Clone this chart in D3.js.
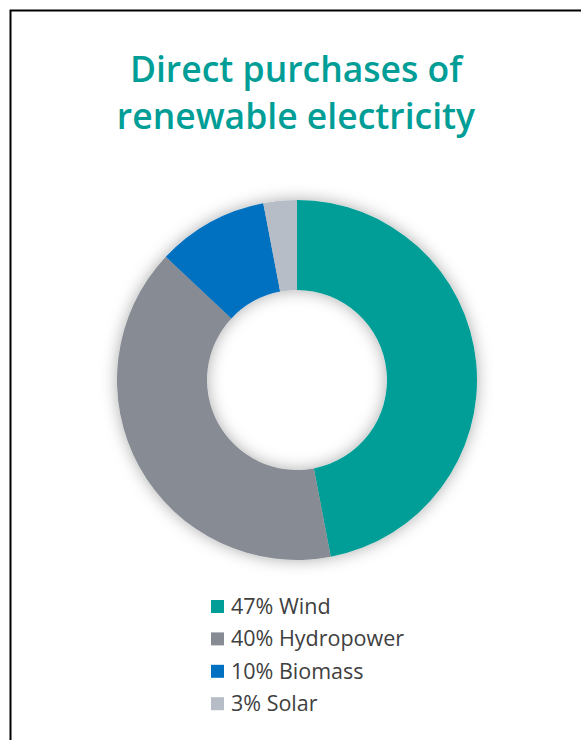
<!DOCTYPE html>
<html>
<head>
<meta charset="utf-8">
<script src="https://cdn.jsdelivr.net/npm/d3@7"></script>
<style>
  body { margin: 0; background: #fff; }
</style>
</head>
<body>
<div id="chart"></div>
<script>
var categories = ["Wind", "Hydropower", "Biomass", "Solar"];
var values = [47, 40, 10, 3];
var colors = ["#009E96", "#878C94", "#0070C0", "#B6BDC6"];
var titleLines = ["Direct purchases of", "renewable electricity"];

var width = 581, height = 740;
var cx = 297, cy = 380, outerR = 180, innerR = 90;

var svg = d3.select("#chart").append("svg")
  .attr("width", width)
  .attr("height", height);

// frame (runs off the right / bottom edge)
svg.append("rect")
  .attr("x", 10.5).attr("y", 10.5)
  .attr("width", 700).attr("height", 900)
  .attr("fill", "none")
  .attr("stroke", "#000")
  .attr("stroke-width", 2);

var defs = svg.append("defs");
var f = defs.append("filter").attr("id", "shadow")
  .attr("x", "-20%").attr("y", "-20%").attr("width", "140%").attr("height", "140%");
f.append("feDropShadow")
  .attr("dx", 0).attr("dy", 0)
  .attr("stdDeviation", 8)
  .attr("flood-color", "#000")
  .attr("flood-opacity", 0.33);

svg.append("g").selectAll("text")
  .data(titleLines)
  .enter().append("text")
  .attr("x", 296)
  .attr("y", function(d, i) { return 82 + i * 47; })
  .attr("text-anchor", "middle")
  .attr("font-family", "'Open Sans', sans-serif")
  .attr("font-weight", 600)
  .attr("font-size", 35.5)
  .attr("fill", "#009E96")
  .text(function(d) { return d; });

var pie = d3.pie().value(function(d) { return d; }).sort(null);
var arc = d3.arc().innerRadius(innerR).outerRadius(outerR);

var g = svg.append("g")
  .attr("transform", "translate(" + cx + "," + cy + ")")
  .attr("filter", "url(#shadow)");

g.selectAll("path")
  .data(pie(values))
  .enter().append("path")
  .attr("d", arc)
  .attr("fill", function(d, i) { return colors[i]; });

var legend = svg.append("g").attr("transform", "translate(211,600)");
var row = legend.selectAll("g")
  .data(categories)
  .enter().append("g")
  .attr("transform", function(d, i) { return "translate(0," + (i * 32.4) + ")"; });

row.append("rect")
  .attr("width", 13).attr("height", 13)
  .attr("fill", function(d, i) { return colors[i]; });

row.append("text")
  .attr("x", 20)
  .attr("y", 14)
  .attr("font-family", "'Open Sans', sans-serif")
  .attr("font-size", 21.5)
  .attr("fill", "#404040")
  .text(function(d, i) { return values[i] + "% " + d; });
</script>
</body>
</html>
